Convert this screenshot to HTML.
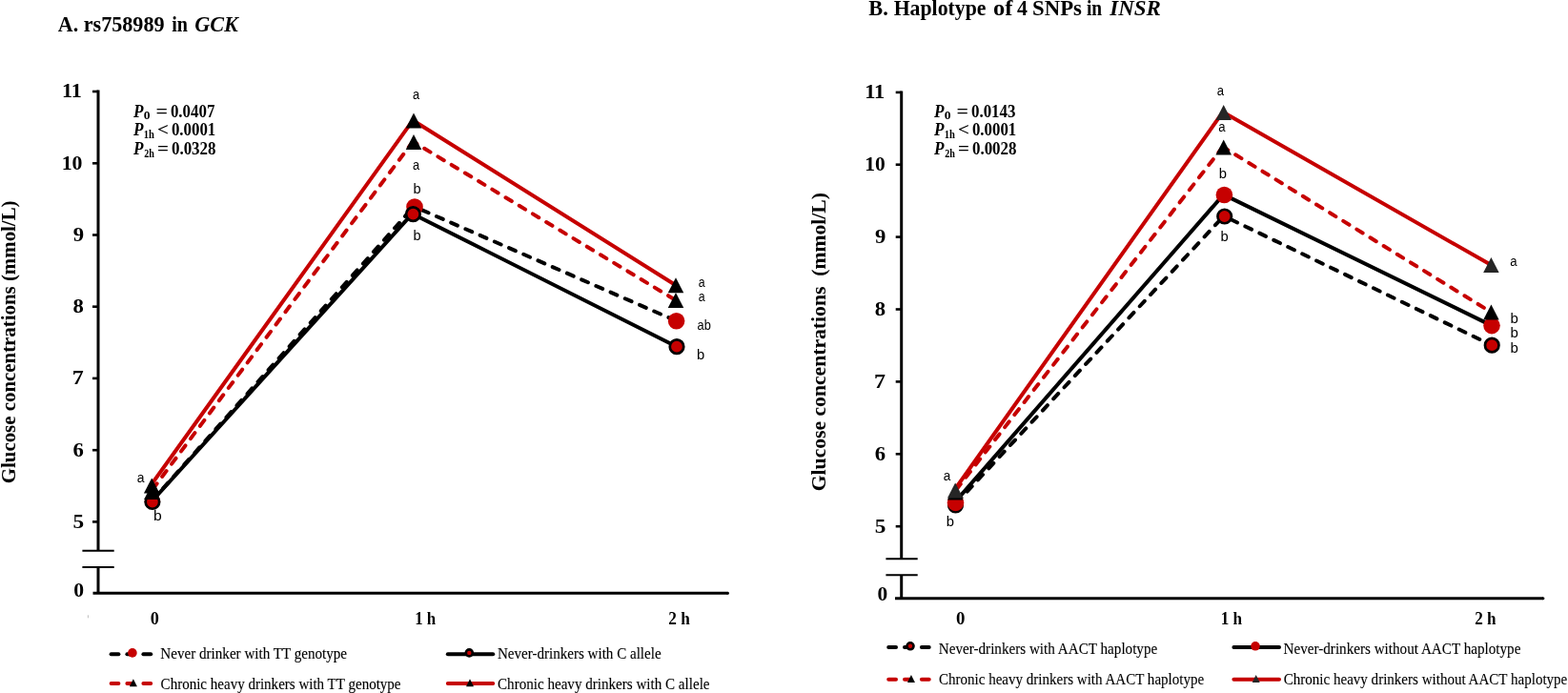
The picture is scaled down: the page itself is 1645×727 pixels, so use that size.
<!DOCTYPE html>
<html><head><meta charset="utf-8"><title>Glucose concentrations</title>
<style>html,body{margin:0;padding:0;background:#fff;}svg{display:block;}</style></head>
<body><svg width="1645" height="727" viewBox="0 0 1645 727">
<rect width="1645" height="727" fill="#fff"/>
<rect x="91.9" y="645.3" width="1.1" height="3" fill="#c4c4c4"/>
<line x1="103" y1="94.5" x2="103" y2="577.8" stroke="#000" stroke-width="3"/>
<line x1="103" y1="595.1" x2="103" y2="622.2" stroke="#000" stroke-width="3"/>
<line x1="97" y1="96" x2="103" y2="96" stroke="#000" stroke-width="2.6"/>
<line x1="97" y1="171.3" x2="103" y2="171.3" stroke="#000" stroke-width="2.6"/>
<line x1="97" y1="246.5" x2="103" y2="246.5" stroke="#000" stroke-width="2.6"/>
<line x1="97" y1="321.7" x2="103" y2="321.7" stroke="#000" stroke-width="2.6"/>
<line x1="97" y1="396.9" x2="103" y2="396.9" stroke="#000" stroke-width="2.6"/>
<line x1="97" y1="472.2" x2="103" y2="472.2" stroke="#000" stroke-width="2.6"/>
<line x1="97" y1="547.4" x2="103" y2="547.4" stroke="#000" stroke-width="2.6"/>
<line x1="86.4" y1="577.8" x2="119.7" y2="577.8" stroke="#000" stroke-width="2"/>
<line x1="86.4" y1="595.1" x2="119.7" y2="595.1" stroke="#000" stroke-width="2"/>
<line x1="97.5" y1="622.2" x2="763.5" y2="622.2" stroke="#000" stroke-width="3"/>
<circle cx="763.5" cy="622.2" r="1.5" fill="#000"/>
<line x1="945.7" y1="95.4" x2="945.7" y2="586.3" stroke="#000" stroke-width="3"/>
<line x1="945.7" y1="603.3" x2="945.7" y2="627.7" stroke="#000" stroke-width="3"/>
<line x1="939.7" y1="96.9" x2="945.7" y2="96.9" stroke="#000" stroke-width="2.6"/>
<line x1="939.7" y1="172.7" x2="945.7" y2="172.7" stroke="#000" stroke-width="2.6"/>
<line x1="939.7" y1="248.6" x2="945.7" y2="248.6" stroke="#000" stroke-width="2.6"/>
<line x1="939.7" y1="324.5" x2="945.7" y2="324.5" stroke="#000" stroke-width="2.6"/>
<line x1="939.7" y1="400.4" x2="945.7" y2="400.4" stroke="#000" stroke-width="2.6"/>
<line x1="939.7" y1="476.3" x2="945.7" y2="476.3" stroke="#000" stroke-width="2.6"/>
<line x1="939.7" y1="552.2" x2="945.7" y2="552.2" stroke="#000" stroke-width="2.6"/>
<line x1="929.4" y1="586.3" x2="962.7" y2="586.3" stroke="#000" stroke-width="2"/>
<line x1="929.4" y1="603.3" x2="962.7" y2="603.3" stroke="#000" stroke-width="2"/>
<line x1="939" y1="627.7" x2="1618.9" y2="627.7" stroke="#000" stroke-width="3"/>
<circle cx="1618.9" cy="627.7" r="1.5" fill="#000"/>
<line x1="158.70" y1="526.30" x2="434.20" y2="216.60" stroke="#000000" stroke-width="4.0" stroke-linecap="round" stroke-dasharray="7.4 9.2" stroke-dashoffset="14.30"/>
<line x1="434.20" y1="216.60" x2="709.60" y2="336.70" stroke="#000000" stroke-width="4.0" stroke-linecap="round" stroke-dasharray="7.4 9.2" stroke-dashoffset="7.26"/>
<circle cx="159.90" cy="526.00" r="8.30" fill="#C60000"/>
<circle cx="435.00" cy="217.00" r="8.80" fill="#C60000"/>
<circle cx="709.60" cy="336.70" r="8.80" fill="#C60000"/>
<polyline points="158.70,526.50 432.60,224.20 710.00,363.70" fill="none" stroke="#000000" stroke-width="4.0" stroke-linejoin="round" stroke-linecap="round"/>
<circle cx="159.90" cy="526.50" r="7.25" fill="#C60000" stroke="#000000" stroke-width="2.7"/>
<circle cx="433.40" cy="224.60" r="7.25" fill="#C60000" stroke="#000000" stroke-width="2.7"/>
<circle cx="710.00" cy="363.70" r="7.25" fill="#C60000" stroke="#000000" stroke-width="2.7"/>
<line x1="158.10" y1="516.00" x2="433.20" y2="148.50" stroke="#C60000" stroke-width="4.0" stroke-linecap="round" stroke-dasharray="7.4 9.2" stroke-dashoffset="13.14"/>
<line x1="433.20" y1="148.50" x2="709.00" y2="315.00" stroke="#C60000" stroke-width="4.0" stroke-linecap="round" stroke-dasharray="7.4 9.2" stroke-dashoffset="2.54"/>
<polygon points="159.30,508.00 151.05,524.00 167.55,524.00" fill="#000000"/>
<polygon points="434.00,140.90 425.75,156.90 442.25,156.90" fill="#000000"/>
<polygon points="709.00,307.00 700.75,323.00 717.25,323.00" fill="#000000"/>
<polyline points="158.00,509.50 433.20,126.20 709.00,299.20" fill="none" stroke="#C60000" stroke-width="4.0" stroke-linejoin="round" stroke-linecap="round"/>
<polygon points="159.20,501.50 150.95,517.50 167.45,517.50" fill="#000000"/>
<polygon points="434.00,118.60 425.75,134.60 442.25,134.60" fill="#000000"/>
<polygon points="709.00,291.20 700.75,307.20 717.25,307.20" fill="#000000"/>
<line x1="1001.30" y1="529.90" x2="1283.90" y2="226.60" stroke="#000000" stroke-width="4.0" stroke-linecap="round" stroke-dasharray="7.4 9.2" stroke-dashoffset="13.60"/>
<line x1="1283.90" y1="226.60" x2="1565.20" y2="362.20" stroke="#000000" stroke-width="4.0" stroke-linecap="round" stroke-dasharray="7.4 9.2" stroke-dashoffset="8.25"/>
<circle cx="1002.50" cy="529.90" r="7.25" fill="#C60000" stroke="#000000" stroke-width="2.7"/>
<circle cx="1284.70" cy="227.00" r="7.25" fill="#C60000" stroke="#000000" stroke-width="2.7"/>
<circle cx="1565.20" cy="362.20" r="7.25" fill="#C60000" stroke="#000000" stroke-width="2.7"/>
<polyline points="1001.30,527.40 1283.60,204.10 1565.00,341.60" fill="none" stroke="#000000" stroke-width="4.0" stroke-linejoin="round" stroke-linecap="round"/>
<circle cx="1002.50" cy="527.40" r="8.80" fill="#C60000"/>
<circle cx="1284.40" cy="204.50" r="8.80" fill="#C60000"/>
<circle cx="1565.00" cy="341.60" r="8.80" fill="#C60000"/>
<line x1="1001.00" y1="516.50" x2="1282.90" y2="154.10" stroke="#C60000" stroke-width="4.0" stroke-linecap="round" stroke-dasharray="7.4 9.2" stroke-dashoffset="13.00"/>
<line x1="1282.90" y1="154.10" x2="1564.40" y2="327.50" stroke="#C60000" stroke-width="4.0" stroke-linecap="round" stroke-dasharray="7.4 9.2" stroke-dashoffset="1.03"/>
<polygon points="1002.20,508.50 993.95,524.50 1010.45,524.50" fill="#000000"/>
<polygon points="1283.70,146.50 1275.45,162.50 1291.95,162.50" fill="#000000"/>
<polygon points="1564.40,319.50 1556.15,335.50 1572.65,335.50" fill="#000000"/>
<polyline points="1001.00,514.40 1282.90,117.60 1564.40,278.10" fill="none" stroke="#C60000" stroke-width="4.0" stroke-linejoin="round" stroke-linecap="round"/>
<polygon points="1002.20,506.40 993.95,522.40 1010.45,522.40" fill="#262626"/>
<polygon points="1283.70,110.00 1275.45,126.00 1291.95,126.00" fill="#262626"/>
<polygon points="1564.40,270.10 1556.15,286.10 1572.65,286.10" fill="#262626"/>
<line x1="116.6" y1="686.2" x2="124.4" y2="686.2" stroke="#000000" stroke-width="4" stroke-linecap="round"/>
<line x1="133.4" y1="686.2" x2="138.4" y2="686.2" stroke="#000000" stroke-width="4" stroke-linecap="round"/>
<line x1="150.4" y1="686.2" x2="158.2" y2="686.2" stroke="#000000" stroke-width="4" stroke-linecap="round"/>
<circle cx="138.9" cy="684.9" r="4.8" fill="#C60000"/>
<line x1="116.6" y1="716.9" x2="124.4" y2="716.9" stroke="#C60000" stroke-width="4" stroke-linecap="round"/>
<line x1="133.4" y1="716.9" x2="138.4" y2="716.9" stroke="#C60000" stroke-width="4" stroke-linecap="round"/>
<line x1="150.4" y1="716.9" x2="158.2" y2="716.9" stroke="#C60000" stroke-width="4" stroke-linecap="round"/>
<polygon points="139.90,712.20 135.90,720.20 143.90,720.20" fill="#000000"/>
<line x1="469.8" y1="686.2" x2="517.2" y2="686.2" stroke="#000000" stroke-width="4" stroke-linecap="round"/>
<circle cx="492.3" cy="684.9" r="3.5" fill="#C60000" stroke="#000" stroke-width="2.6"/>
<line x1="469.8" y1="716.9" x2="517.2" y2="716.9" stroke="#C60000" stroke-width="4" stroke-linecap="round"/>
<polygon points="493.00,712.20 489.00,720.20 497.00,720.20" fill="#000000"/>
<line x1="932.2" y1="679.1" x2="940.0" y2="679.1" stroke="#000000" stroke-width="4" stroke-linecap="round"/>
<line x1="949.0" y1="679.1" x2="954.5" y2="679.1" stroke="#000000" stroke-width="4" stroke-linecap="round"/>
<line x1="966.9" y1="679.1" x2="974.7" y2="679.1" stroke="#000000" stroke-width="4" stroke-linecap="round"/>
<circle cx="955.0" cy="677.8" r="3.5" fill="#C60000" stroke="#000" stroke-width="2.6"/>
<line x1="932.2" y1="712.8" x2="940.0" y2="712.8" stroke="#C60000" stroke-width="4" stroke-linecap="round"/>
<line x1="949.0" y1="712.8" x2="954.5" y2="712.8" stroke="#C60000" stroke-width="4" stroke-linecap="round"/>
<line x1="966.9" y1="712.8" x2="974.7" y2="712.8" stroke="#C60000" stroke-width="4" stroke-linecap="round"/>
<polygon points="955.95,708.10 951.95,716.10 959.95,716.10" fill="#000000"/>
<line x1="1294.4" y1="679.1" x2="1342.0" y2="679.1" stroke="#000000" stroke-width="4" stroke-linecap="round"/>
<circle cx="1317.0" cy="677.8" r="4.8" fill="#C60000"/>
<line x1="1294.4" y1="712.8" x2="1342.0" y2="712.8" stroke="#C60000" stroke-width="4" stroke-linecap="round"/>
<polygon points="1317.70,708.10 1313.70,716.10 1321.70,716.10" fill="#262626"/>
<text x="60.87" y="32.8" font-family="'Liberation Serif','Times New Roman',serif" font-size="23.5" font-weight="bold" font-style="normal" textLength="21.37" lengthAdjust="spacingAndGlyphs">A.</text>
<text x="87.69" y="32.8" font-family="'Liberation Serif','Times New Roman',serif" font-size="23.5" font-weight="bold" font-style="normal" textLength="84.89" lengthAdjust="spacingAndGlyphs">rs758989</text>
<text x="180.27" y="32.8" font-family="'Liberation Serif','Times New Roman',serif" font-size="23.5" font-weight="bold" font-style="normal" textLength="16.73" lengthAdjust="spacingAndGlyphs">in</text>
<text x="204.29" y="32.8" font-family="'Liberation Serif','Times New Roman',serif" font-size="23.5" font-weight="bold" font-style="italic" textLength="45.6" lengthAdjust="spacingAndGlyphs">GCK</text>
<text x="911.32" y="16" font-family="'Liberation Serif','Times New Roman',serif" font-size="23.5" font-weight="bold" font-style="normal" textLength="20.48" lengthAdjust="spacingAndGlyphs">B.</text>
<text x="937.64" y="16" font-family="'Liberation Serif','Times New Roman',serif" font-size="23.5" font-weight="bold" font-style="normal" textLength="96.93" lengthAdjust="spacingAndGlyphs">Haplotype</text>
<text x="1042.06" y="16" font-family="'Liberation Serif','Times New Roman',serif" font-size="23.5" font-weight="bold" font-style="normal" textLength="20.36" lengthAdjust="spacingAndGlyphs">of</text>
<text x="1067.07" y="16" font-family="'Liberation Serif','Times New Roman',serif" font-size="23.5" font-weight="bold" font-style="normal" textLength="10.9" lengthAdjust="spacingAndGlyphs">4</text>
<text x="1083.09" y="16" font-family="'Liberation Serif','Times New Roman',serif" font-size="23.5" font-weight="bold" font-style="normal" textLength="51.84" lengthAdjust="spacingAndGlyphs">SNPs</text>
<text x="1139.89" y="16" font-family="'Liberation Serif','Times New Roman',serif" font-size="23.5" font-weight="bold" font-style="normal" textLength="16.21" lengthAdjust="spacingAndGlyphs">in</text>
<text x="1164.34" y="16" font-family="'Liberation Serif','Times New Roman',serif" font-size="23.5" font-weight="bold" font-style="italic" textLength="53.61" lengthAdjust="spacingAndGlyphs">INSR</text>
<text x="64.97" y="102.3" font-family="'Liberation Serif','Times New Roman',serif" font-size="21.2" font-weight="bold" font-style="normal" textLength="20.9" lengthAdjust="spacingAndGlyphs">11</text>
<text x="64.7" y="177.6" font-family="'Liberation Serif','Times New Roman',serif" font-size="21.2" font-weight="bold" font-style="normal" textLength="21.81" lengthAdjust="spacingAndGlyphs">10</text>
<text x="76.76" y="252.8" font-family="'Liberation Serif','Times New Roman',serif" font-size="21.2" font-weight="bold" font-style="normal" textLength="11.34" lengthAdjust="spacingAndGlyphs">9</text>
<text x="76.5" y="328.0" font-family="'Liberation Serif','Times New Roman',serif" font-size="21.2" font-weight="bold" font-style="normal" textLength="11.34" lengthAdjust="spacingAndGlyphs">8</text>
<text x="75.89" y="403.2" font-family="'Liberation Serif','Times New Roman',serif" font-size="21.2" font-weight="bold" font-style="normal" textLength="11.99" lengthAdjust="spacingAndGlyphs">7</text>
<text x="76.5" y="478.5" font-family="'Liberation Serif','Times New Roman',serif" font-size="21.2" font-weight="bold" font-style="normal" textLength="11.34" lengthAdjust="spacingAndGlyphs">6</text>
<text x="76.47" y="553.7" font-family="'Liberation Serif','Times New Roman',serif" font-size="21.2" font-weight="bold" font-style="normal" textLength="11.65" lengthAdjust="spacingAndGlyphs">5</text>
<text x="77.23" y="626.4" font-family="'Liberation Serif','Times New Roman',serif" font-size="21.2" font-weight="bold" font-style="normal" textLength="10.83" lengthAdjust="spacingAndGlyphs">0</text>
<text x="907.15" y="103.2" font-family="'Liberation Serif','Times New Roman',serif" font-size="21.2" font-weight="bold" font-style="normal" textLength="21.13" lengthAdjust="spacingAndGlyphs">11</text>
<text x="907.23" y="179.0" font-family="'Liberation Serif','Times New Roman',serif" font-size="21.2" font-weight="bold" font-style="normal" textLength="21.47" lengthAdjust="spacingAndGlyphs">10</text>
<text x="917.96" y="254.9" font-family="'Liberation Serif','Times New Roman',serif" font-size="21.2" font-weight="bold" font-style="normal" textLength="11.34" lengthAdjust="spacingAndGlyphs">9</text>
<text x="917.7" y="330.8" font-family="'Liberation Serif','Times New Roman',serif" font-size="21.2" font-weight="bold" font-style="normal" textLength="11.34" lengthAdjust="spacingAndGlyphs">8</text>
<text x="917.09" y="406.7" font-family="'Liberation Serif','Times New Roman',serif" font-size="21.2" font-weight="bold" font-style="normal" textLength="11.99" lengthAdjust="spacingAndGlyphs">7</text>
<text x="917.7" y="482.6" font-family="'Liberation Serif','Times New Roman',serif" font-size="21.2" font-weight="bold" font-style="normal" textLength="11.34" lengthAdjust="spacingAndGlyphs">6</text>
<text x="917.68" y="558.5" font-family="'Liberation Serif','Times New Roman',serif" font-size="21.2" font-weight="bold" font-style="normal" textLength="11.65" lengthAdjust="spacingAndGlyphs">5</text>
<text x="920.64" y="630.2" font-family="'Liberation Serif','Times New Roman',serif" font-size="21.2" font-weight="bold" font-style="normal" textLength="10.71" lengthAdjust="spacingAndGlyphs">0</text>
<text x="157.7" y="654.9" font-family="'Liberation Serif','Times New Roman',serif" font-size="19.5" font-weight="bold" font-style="normal" textLength="9.1" lengthAdjust="spacingAndGlyphs">0</text>
<text x="435.2" y="654.9" font-family="'Liberation Serif','Times New Roman',serif" font-size="19.5" font-weight="bold" font-style="normal" textLength="22.1" lengthAdjust="spacingAndGlyphs">1 h</text>
<text x="701.34" y="654.9" font-family="'Liberation Serif','Times New Roman',serif" font-size="19.5" font-weight="bold" font-style="normal" textLength="22.57" lengthAdjust="spacingAndGlyphs">2 h</text>
<text x="1002.97" y="654.8" font-family="'Liberation Serif','Times New Roman',serif" font-size="19.5" font-weight="bold" font-style="normal" textLength="9.45" lengthAdjust="spacingAndGlyphs">0</text>
<text x="1280.67" y="654.8" font-family="'Liberation Serif','Times New Roman',serif" font-size="19.5" font-weight="bold" font-style="normal" textLength="22.53" lengthAdjust="spacingAndGlyphs">1 h</text>
<text x="1547.14" y="654.8" font-family="'Liberation Serif','Times New Roman',serif" font-size="19.5" font-weight="bold" font-style="normal" textLength="22.36" lengthAdjust="spacingAndGlyphs">2 h</text>
<text transform="translate(16.0,506.2) rotate(-90)" x="-1.02" y="0" font-family="'Liberation Serif','Times New Roman',serif" font-size="20.5" font-weight="bold" font-style="normal" textLength="296.75" lengthAdjust="spacingAndGlyphs">Glucose concentrations (mmol/L)</text>
<text transform="translate(865.7,514.2) rotate(-90)" x="-1.06" y="0" font-family="'Liberation Serif','Times New Roman',serif" font-size="20.5" font-weight="bold" font-style="normal" textLength="313.2" lengthAdjust="spacingAndGlyphs">Glucose concentrations&#160;&#160;(mmol/L)</text>
<text x="140.1" y="122.6" font-family="'Liberation Serif','Times New Roman',serif" font-size="19" font-weight="bold" font-style="italic" textLength="10.47" lengthAdjust="spacingAndGlyphs">P</text>
<text x="150.81" y="125.39999999999999" font-family="'Liberation Serif','Times New Roman',serif" font-size="11.5" font-weight="bold" font-style="normal" textLength="6.78" lengthAdjust="spacingAndGlyphs">0</text>
<text x="163.55" y="122.6" font-family="'Liberation Serif','Times New Roman',serif" font-size="19" font-weight="bold" font-style="normal" textLength="12.5" lengthAdjust="spacingAndGlyphs">=</text>
<text x="178.93" y="122.6" font-family="'Liberation Serif','Times New Roman',serif" font-size="19" font-weight="bold" font-style="normal" textLength="46.41" lengthAdjust="spacingAndGlyphs">0.0407</text>
<text x="140.1" y="141.9" font-family="'Liberation Serif','Times New Roman',serif" font-size="19" font-weight="bold" font-style="italic" textLength="10.47" lengthAdjust="spacingAndGlyphs">P</text>
<text x="150.78" y="144.70000000000002" font-family="'Liberation Serif','Times New Roman',serif" font-size="11.5" font-weight="bold" font-style="normal" textLength="11.16" lengthAdjust="spacingAndGlyphs">1h</text>
<text x="164.99" y="141.9" font-family="'Liberation Serif','Times New Roman',serif" font-size="19" font-weight="bold" font-style="normal" textLength="12.0" lengthAdjust="spacingAndGlyphs">&lt;</text>
<text x="179.93" y="141.9" font-family="'Liberation Serif','Times New Roman',serif" font-size="19" font-weight="bold" font-style="normal" textLength="46.35" lengthAdjust="spacingAndGlyphs">0.0001</text>
<text x="140.1" y="161.7" font-family="'Liberation Serif','Times New Roman',serif" font-size="19" font-weight="bold" font-style="italic" textLength="10.47" lengthAdjust="spacingAndGlyphs">P</text>
<text x="151.26" y="164.5" font-family="'Liberation Serif','Times New Roman',serif" font-size="11.5" font-weight="bold" font-style="normal" textLength="10.68" lengthAdjust="spacingAndGlyphs">2h</text>
<text x="164.99" y="161.7" font-family="'Liberation Serif','Times New Roman',serif" font-size="19" font-weight="bold" font-style="normal" textLength="12.0" lengthAdjust="spacingAndGlyphs">=</text>
<text x="179.93" y="161.7" font-family="'Liberation Serif','Times New Roman',serif" font-size="19" font-weight="bold" font-style="normal" textLength="46.64" lengthAdjust="spacingAndGlyphs">0.0328</text>
<text x="980.1" y="122.6" font-family="'Liberation Serif','Times New Roman',serif" font-size="19" font-weight="bold" font-style="italic" textLength="10.47" lengthAdjust="spacingAndGlyphs">P</text>
<text x="990.81" y="125.39999999999999" font-family="'Liberation Serif','Times New Roman',serif" font-size="11.5" font-weight="bold" font-style="normal" textLength="6.78" lengthAdjust="spacingAndGlyphs">0</text>
<text x="1003.55" y="122.6" font-family="'Liberation Serif','Times New Roman',serif" font-size="19" font-weight="bold" font-style="normal" textLength="12.5" lengthAdjust="spacingAndGlyphs">=</text>
<text x="1018.93" y="122.6" font-family="'Liberation Serif','Times New Roman',serif" font-size="19" font-weight="bold" font-style="normal" textLength="46.64" lengthAdjust="spacingAndGlyphs">0.0143</text>
<text x="980.1" y="141.9" font-family="'Liberation Serif','Times New Roman',serif" font-size="19" font-weight="bold" font-style="italic" textLength="10.47" lengthAdjust="spacingAndGlyphs">P</text>
<text x="990.78" y="144.70000000000002" font-family="'Liberation Serif','Times New Roman',serif" font-size="11.5" font-weight="bold" font-style="normal" textLength="11.16" lengthAdjust="spacingAndGlyphs">1h</text>
<text x="1004.99" y="141.9" font-family="'Liberation Serif','Times New Roman',serif" font-size="19" font-weight="bold" font-style="normal" textLength="12.0" lengthAdjust="spacingAndGlyphs">&lt;</text>
<text x="1019.93" y="141.9" font-family="'Liberation Serif','Times New Roman',serif" font-size="19" font-weight="bold" font-style="normal" textLength="46.35" lengthAdjust="spacingAndGlyphs">0.0001</text>
<text x="980.1" y="161.7" font-family="'Liberation Serif','Times New Roman',serif" font-size="19" font-weight="bold" font-style="italic" textLength="10.47" lengthAdjust="spacingAndGlyphs">P</text>
<text x="991.26" y="164.5" font-family="'Liberation Serif','Times New Roman',serif" font-size="11.5" font-weight="bold" font-style="normal" textLength="10.68" lengthAdjust="spacingAndGlyphs">2h</text>
<text x="1004.99" y="161.7" font-family="'Liberation Serif','Times New Roman',serif" font-size="19" font-weight="bold" font-style="normal" textLength="12.0" lengthAdjust="spacingAndGlyphs">=</text>
<text x="1019.93" y="161.7" font-family="'Liberation Serif','Times New Roman',serif" font-size="19" font-weight="bold" font-style="normal" textLength="46.64" lengthAdjust="spacingAndGlyphs">0.0028</text>
<text x="143.8" y="505.9" font-family="'Liberation Sans',Arial,sans-serif" font-size="14" font-weight="normal" font-style="normal" textLength="7.74" lengthAdjust="spacingAndGlyphs">a</text>
<text x="161.08" y="546" font-family="'Liberation Sans',Arial,sans-serif" font-size="14" font-weight="normal" font-style="normal" textLength="8.73" lengthAdjust="spacingAndGlyphs">b</text>
<text x="432.94" y="103.5" font-family="'Liberation Sans',Arial,sans-serif" font-size="14" font-weight="normal" font-style="normal" textLength="7.1" lengthAdjust="spacingAndGlyphs">a</text>
<text x="432.94" y="178.4" font-family="'Liberation Sans',Arial,sans-serif" font-size="14" font-weight="normal" font-style="normal" textLength="7.1" lengthAdjust="spacingAndGlyphs">a</text>
<text x="433.46" y="202.6" font-family="'Liberation Sans',Arial,sans-serif" font-size="14" font-weight="normal" font-style="normal" textLength="8.11" lengthAdjust="spacingAndGlyphs">b</text>
<text x="433.46" y="251.6" font-family="'Liberation Sans',Arial,sans-serif" font-size="14" font-weight="normal" font-style="normal" textLength="8.11" lengthAdjust="spacingAndGlyphs">b</text>
<text x="732.76" y="300.8" font-family="'Liberation Sans',Arial,sans-serif" font-size="14" font-weight="normal" font-style="normal" textLength="6.88" lengthAdjust="spacingAndGlyphs">a</text>
<text x="732.76" y="316.4" font-family="'Liberation Sans',Arial,sans-serif" font-size="14" font-weight="normal" font-style="normal" textLength="6.88" lengthAdjust="spacingAndGlyphs">a</text>
<text x="731.54" y="345.5" font-family="'Liberation Sans',Arial,sans-serif" font-size="14" font-weight="normal" font-style="normal" textLength="14.29" lengthAdjust="spacingAndGlyphs">ab</text>
<text x="731.14" y="377.4" font-family="'Liberation Sans',Arial,sans-serif" font-size="14" font-weight="normal" font-style="normal" textLength="8.23" lengthAdjust="spacingAndGlyphs">b</text>
<text x="989.72" y="503.9" font-family="'Liberation Sans',Arial,sans-serif" font-size="14" font-weight="normal" font-style="normal" textLength="7.53" lengthAdjust="spacingAndGlyphs">a</text>
<text x="992.74" y="551.6" font-family="'Liberation Sans',Arial,sans-serif" font-size="14" font-weight="normal" font-style="normal" textLength="8.23" lengthAdjust="spacingAndGlyphs">b</text>
<text x="1276.83" y="99.8" font-family="'Liberation Sans',Arial,sans-serif" font-size="14" font-weight="normal" font-style="normal" textLength="7.31" lengthAdjust="spacingAndGlyphs">a</text>
<text x="1278.33" y="138.2" font-family="'Liberation Sans',Arial,sans-serif" font-size="14" font-weight="normal" font-style="normal" textLength="7.31" lengthAdjust="spacingAndGlyphs">a</text>
<text x="1278.84" y="186.7" font-family="'Liberation Sans',Arial,sans-serif" font-size="14" font-weight="normal" font-style="normal" textLength="8.23" lengthAdjust="spacingAndGlyphs">b</text>
<text x="1280.54" y="252.9" font-family="'Liberation Sans',Arial,sans-serif" font-size="14" font-weight="normal" font-style="normal" textLength="8.23" lengthAdjust="spacingAndGlyphs">b</text>
<text x="1584.33" y="278.5" font-family="'Liberation Sans',Arial,sans-serif" font-size="14" font-weight="normal" font-style="normal" textLength="7.31" lengthAdjust="spacingAndGlyphs">a</text>
<text x="1584.43" y="338.6" font-family="'Liberation Sans',Arial,sans-serif" font-size="14" font-weight="normal" font-style="normal" textLength="8.36" lengthAdjust="spacingAndGlyphs">b</text>
<text x="1584.43" y="354" font-family="'Liberation Sans',Arial,sans-serif" font-size="14" font-weight="normal" font-style="normal" textLength="8.36" lengthAdjust="spacingAndGlyphs">b</text>
<text x="1584.43" y="369.5" font-family="'Liberation Sans',Arial,sans-serif" font-size="14" font-weight="normal" font-style="normal" textLength="8.36" lengthAdjust="spacingAndGlyphs">b</text>
<text x="168.34" y="690.8" font-family="'Liberation Serif','Times New Roman',serif" font-size="16.6" font-weight="normal" font-style="normal" textLength="195.75" lengthAdjust="spacingAndGlyphs" stroke="#000" stroke-width="0.12">Never drinker with TT genotype</text>
<text x="168.62" y="722.9" font-family="'Liberation Serif','Times New Roman',serif" font-size="16.6" font-weight="normal" font-style="normal" textLength="251.92" lengthAdjust="spacingAndGlyphs" stroke="#000" stroke-width="0.12">Chronic heavy drinkers with TT genotype</text>
<text x="521.95" y="690.8" font-family="'Liberation Serif','Times New Roman',serif" font-size="16.6" font-weight="normal" font-style="normal" textLength="171.65" lengthAdjust="spacingAndGlyphs" stroke="#000" stroke-width="0.12">Never-drinkers with C allele</text>
<text x="522.02" y="722.9" font-family="'Liberation Serif','Times New Roman',serif" font-size="16.6" font-weight="normal" font-style="normal" textLength="222.52" lengthAdjust="spacingAndGlyphs" stroke="#000" stroke-width="0.12">Chronic heavy drinkers with C allele</text>
<text x="984.84" y="685.5" font-family="'Liberation Serif','Times New Roman',serif" font-size="16.6" font-weight="normal" font-style="normal" textLength="229.4" lengthAdjust="spacingAndGlyphs" stroke="#000" stroke-width="0.12">Never-drinkers with AACT haplotype</text>
<text x="985.02" y="717.9" font-family="'Liberation Serif','Times New Roman',serif" font-size="16.6" font-weight="normal" font-style="normal" textLength="278.12" lengthAdjust="spacingAndGlyphs" stroke="#000" stroke-width="0.12">Chronic heavy drinkers with AACT haplotype</text>
<text x="1346.54" y="685.5" font-family="'Liberation Serif','Times New Roman',serif" font-size="16.6" font-weight="normal" font-style="normal" textLength="248.86" lengthAdjust="spacingAndGlyphs" stroke="#000" stroke-width="0.12">Never-drinkers without AACT haplotype</text>
<text x="1346.72" y="717.9" font-family="'Liberation Serif','Times New Roman',serif" font-size="16.6" font-weight="normal" font-style="normal" textLength="297.58" lengthAdjust="spacingAndGlyphs" stroke="#000" stroke-width="0.12">Chronic heavy drinkers without AACT haplotype</text>
</svg></body></html>
